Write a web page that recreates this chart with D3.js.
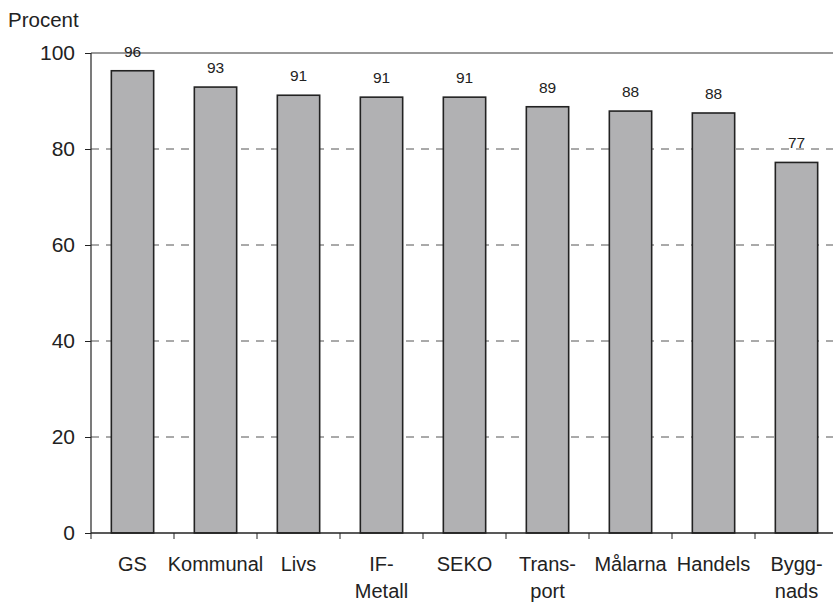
<!DOCTYPE html>
<html><head><meta charset="utf-8">
<script src="https://cdn.jsdelivr.net/npm/d3@7"></script>
<style>body{margin:0;background:#fff}svg{display:block}text{font-family:"Liberation Sans",Arial,sans-serif;fill:#222}</style>
</head><body><div id="c"></div>
<script>
const categories = ["GS","Kommunal","Livs","IF-\nMetall","SEKO","Trans-\nport","Målarna","Handels","Bygg-\nnads"];
const values = [96.3, 92.9, 91.2, 90.8, 90.8, 88.8, 87.9, 87.5, 77.2];
const valueLabels = ["96","93","91","91","91","89","88","88","77"];
const yTicks = [0,20,40,60,80,100];
const yLabel = "Procent";

const W=833,H=602;
const svg=d3.select("#c").append("svg").attr("width",W).attr("height",H);
const x=d3.scaleBand().domain(categories).range([91,838]).paddingInner(0.49).paddingOuter(0.245);
const xb=d3.scaleBand().domain(categories).range([91,838]);
const y=d3.scaleLinear().domain([0,100]).range([533,53]);

// gridlines
svg.append("g").selectAll("line").data(yTicks.filter(d=>d>0&&d<100)).join("line")
  .attr("x1",91).attr("x2",W).attr("y1",d=>y(d)).attr("y2",d=>y(d))
  .attr("stroke","#555").attr("stroke-width",1).attr("stroke-dasharray","8,7");
svg.append("line").attr("x1",91).attr("x2",W).attr("y1",y(100)).attr("y2",y(100))
  .attr("stroke","#999").attr("stroke-width",2);

// bars
svg.append("g").selectAll("rect").data(values).join("rect")
  .attr("x",(d,i)=>x(categories[i])).attr("width",x.bandwidth())
  .attr("y",d=>y(d)).attr("height",d=>y(0)-y(d))
  .attr("fill","#b1b1b3").attr("stroke","#222").attr("stroke-width",1.6);

// value labels
svg.append("g").selectAll("text").data(values).join("text")
  .attr("x",(d,i)=>x(categories[i])+x.bandwidth()/2).attr("y",d=>y(d)-14)
  .attr("text-anchor","middle").attr("font-size",15.5).text((d,i)=>valueLabels[i]);

// y axis
const ya=svg.append("g").attr("transform","translate(91,0)")
  .call(d3.axisLeft(y).tickValues(yTicks).tickSize(6).tickPadding(10));
ya.select(".domain").attr("stroke","#222").attr("stroke-width",1.2).attr("d","M0,"+y(100)+"V"+y(0));
ya.selectAll(".tick line").attr("stroke","#222");
ya.selectAll(".tick text").attr("font-size",21).attr("fill","#222").style("font-family","Liberation Sans, Arial");

// x axis
const xa=svg.append("g").attr("transform","translate(0,533)");
xa.append("line").attr("x1",91).attr("x2",W).attr("stroke","#222").attr("stroke-width",1.6);
xa.selectAll(".tk").data(categories.concat(["_end"])).join("line").attr("class","tk")
  .attr("x1",(d,i)=>91+i*xb.bandwidth()).attr("x2",(d,i)=>91+i*xb.bandwidth())
  .attr("y1",0).attr("y2",6).attr("stroke","#222");
xa.selectAll("text").data(categories).join("text")
  .attr("text-anchor","middle").attr("font-size",20)
  .attr("transform",d=>`translate(${xb(d)+xb.bandwidth()/2},0)`)
  .each(function(d){
    const lines=d.split("\n");
    d3.select(this).selectAll("tspan").data(lines).join("tspan")
      .attr("x",0).attr("y",(l,i)=>38+i*26.5).text(l=>l);
  });

svg.append("text").attr("x",8).attr("y",27).attr("font-size",20.5).text(yLabel);
</script></body></html>
